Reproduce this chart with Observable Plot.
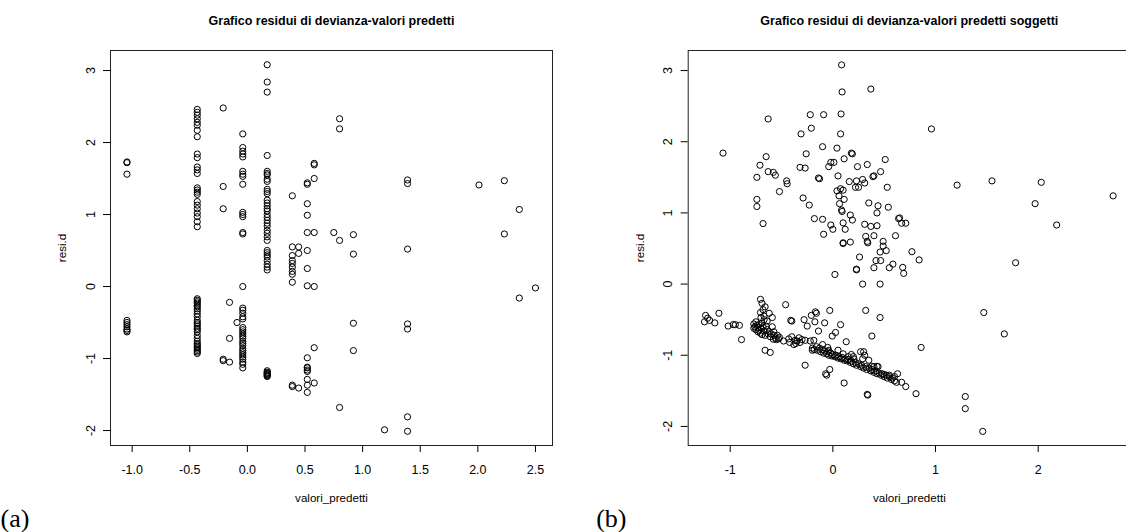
<!DOCTYPE html>
<html>
<head>
<meta charset="utf-8">
<script src="https://cdn.jsdelivr.net/npm/d3@7"></script>
<script src="https://cdn.jsdelivr.net/npm/@observablehq/plot@0.6"></script>
<style>
  html, body { margin: 0; padding: 0; background: white; }
  #wrap { width: 1126px; height: 532px; overflow: hidden; display: flex; position: relative; }
  #wrap svg { flex: none; display: block; }
</style>
</head>
<body>
<div id="wrap"></div>
<script>
// ---------- Panel (a): residui di devianza vs valori predetti ----------
const titleA = "Grafico residui di devianza-valori predetti";
const titleB = "Grafico residui di devianza-valori predetti soggetti";
const xLabel = "valori_predetti";
const yLabel = "resi.d";

const aXTicks = [-1.0, -0.5, 0.0, 0.5, 1.0, 1.5, 2.0, 2.5];
const aYTicks = [-2, -1, 0, 1, 2, 3];
const bXTicks = [-1, 0, 1, 2];
const bYTicks = [-2, -1, 0, 1, 2, 3];

// predicted value of each column of points in panel (a)
const aGroupX = [-1.045, -0.435, -0.21, -0.155, -0.09, -0.04, 0.172, 0.39, 0.445, 0.52, 0.58, 0.75, 0.80, 0.92, 1.19, 1.39, 2.01, 2.23, 2.36, 2.50];
// deviance residuals of each column
const aGroupY = [
  [1.73, 1.72, 1.56, -0.47, -0.50, -0.53, -0.56, -0.59, -0.61, -0.63],
  [2.46, 2.42, 2.38, 2.33, 2.28, 2.24, 2.17, 2.08, 1.84, 1.79, 1.66, 1.62, 1.57, 1.37, 1.34, 1.31, 1.28, 1.18, 1.13, 1.08, 1.02, 0.97, 0.90, 0.83,
   -0.17, -0.19, -0.21, -0.23, -0.26, -0.28, -0.31, -0.34, -0.38, -0.42, -0.47, -0.50, -0.52, -0.55, -0.58, -0.60, -0.63, -0.68, -0.72, -0.76, -0.79, -0.81, -0.83, -0.85, -0.87, -0.89, -0.91, -0.93],
  [2.48, 1.39, 1.08, -1.01, -1.03],
  [-0.22, -0.72, -1.05],
  [-0.50],
  [2.12, 1.93, 1.88, 1.84, 1.80, 1.60, 1.56, 1.53, 1.42, 1.03, 1.00, 0.97, 0.75, 0.73,
   0.00, -0.30, -0.33, -0.37, -0.42, -0.45, -0.57, -0.60, -0.63, -0.66, -0.69, -0.72, -0.76, -0.79, -0.82, -0.86, -0.89, -0.92, -0.95, -0.98, -1.01, -1.05, -1.08, -1.13],
  [3.08, 2.84, 2.70, 1.82, 1.60, 1.57, 1.55, 1.49, 1.46, 1.35, 1.32, 1.29, 1.20, 1.16, 1.12, 1.08, 1.05, 1.00, 0.96, 0.92, 0.88, 0.84, 0.78, 0.74, 0.69, 0.64, 0.50, 0.47, 0.44, 0.41, 0.36, 0.31, 0.27, 0.23,
   -1.17, -1.19, -1.20, -1.21, -1.22, -1.23, -1.24, -1.25],
  [1.26, 0.55, 0.43, 0.36, 0.32, 0.27, 0.21, 0.17, 0.06, -1.37, -1.39],
  [0.55, 0.46, -1.41],
  [1.44, 1.42, 1.15, 0.99, 0.75, 0.50, 0.25, 0.01, -0.99, -1.12, -1.13, -1.16, -1.18, -1.29, -1.37, -1.47],
  [1.71, 1.69, 1.50, 0.75, 0.00, -0.85, -1.34],
  [0.75],
  [2.33, 2.19, 0.64, -1.68],
  [0.72, 0.45, -0.51, -0.89],
  [-1.99],
  [1.48, 1.43, 0.52, -0.52, -0.59, -1.81, -2.01],
  [1.41],
  [1.47, 0.73],
  [1.07, -0.16],
  [-0.02]
];

// ---------- Panel (b): per soggetto ----------
const bUpper = [
  [-1.07,1.84],[-0.63,2.32],[-0.65,1.79],[-0.71,1.67],[-0.74,1.50],[-0.63,1.58],[-0.58,1.57],[-0.56,1.53],[-0.45,1.45],[-0.445,1.41],[-0.52,1.30],[-0.74,1.19],[-0.74,1.09],[-0.68,0.85],
  [-0.31,2.11],[-0.22,2.38],[-0.21,2.19],[-0.09,2.38],[-0.10,1.93],[-0.26,1.83],[-0.32,1.64],[-0.27,1.63],[-0.14,1.49],[-0.13,1.48],[-0.29,1.21],[-0.23,1.11],[-0.18,0.92],[-0.10,0.91],[-0.09,0.70],[-0.02,0.83],[0.00,0.77],
  [-0.04,1.65],[-0.02,1.71],[0.01,1.71],[0.04,1.91],[0.05,1.52],[0.085,3.08],[0.09,2.70],[0.08,2.39],[0.075,2.11],[0.11,1.76],[0.18,1.84],[0.19,1.83],[0.04,1.31],[0.075,1.34],[0.10,1.32],[0.06,1.24],[0.11,1.19],
  [0.065,1.13],[0.085,1.04],[0.09,1.02],[0.10,0.86],[0.12,0.77],[0.10,0.58],[0.17,0.59],[0.17,0.97],[0.19,0.90],[0.16,1.44],[0.24,1.65],[0.23,1.45],[0.22,1.36],[0.25,1.36],[0.29,1.47],[0.31,1.42],[0.335,1.68],
  [0.37,2.74],[0.39,1.51],[0.40,1.52],[0.465,1.58],[0.51,1.75],[0.53,1.36],[0.54,1.08],[0.35,1.14],[0.44,1.10],[0.43,1.00],[0.31,0.84],[0.37,0.81],[0.43,0.82],[0.32,0.67],[0.335,0.60],[0.40,0.68],[0.49,0.60],
  [0.49,0.535],[0.52,0.47],[0.46,0.45],[0.465,0.33],[0.42,0.33],[0.26,0.38],[0.40,0.23],[0.23,0.21],
  [0.96,2.18],[1.21,1.39],[1.55,1.45],[2.03,1.43],[1.97,1.13],[2.18,0.83],[2.73,1.24],[1.78,0.30],[0.64,0.92],[0.65,0.93],[0.67,0.855],[0.71,0.855],[0.61,0.68],[0.77,0.455],[0.84,0.34],[0.585,0.28],[0.55,0.23],
  [0.68,0.235],[0.69,0.15],[0.02,0.135],[0.29,0.0],[0.46,0.0],[0.10,0.57],[0.34,0.58]
];
const bLower = [
  [-1.25,-0.53],[-1.24,-0.44],[-1.22,-0.48],[-1.20,-0.51],[-1.15,-0.545],[-1.11,-0.41],[-1.02,-0.59],[-0.97,-0.57],[-0.95,-0.57],[-0.91,-0.58],[-0.89,-0.78],
  [-0.705,-0.215],[-0.69,-0.27],[-0.66,-0.32],[-0.705,-0.40],[-0.62,-0.41],[-0.59,-0.47],[-0.67,-0.45],[-0.75,-0.53],[-0.74,-0.58],[-0.77,-0.62],[-0.72,-0.65],[-0.69,-0.55],[-0.65,-0.59],[-0.62,-0.67],[-0.59,-0.60],
  [-0.575,-0.67],[-0.66,-0.72],[-0.705,-0.69],[-0.54,-0.72],[-0.58,-0.775],[-0.52,-0.75],[-0.48,-0.80],[-0.66,-0.93],[-0.61,-0.96],[-0.77,-0.56],[-0.76,-0.60],[-0.75,-0.64],[-0.73,-0.61],[-0.72,-0.57],[-0.70,-0.62],
  [-0.68,-0.60],[-0.67,-0.66],[-0.64,-0.64],[-0.63,-0.70],[-0.60,-0.70],[-0.57,-0.72],[-0.56,-0.76],[-0.55,-0.78],[-0.53,-0.77],[-0.68,-0.36],[-0.67,-0.50],[-0.64,-0.52],[-0.70,-0.47],[-0.73,-0.67],[-0.69,-0.71],[-0.61,-0.74],
  [-0.46,-0.29],[-0.41,-0.51],[-0.40,-0.52],[-0.40,-0.74],[-0.37,-0.79],[-0.36,-0.835],[-0.33,-0.755],[-0.30,-0.78],[-0.27,-0.79],[-0.28,-0.50],[-0.25,-0.59],[-0.185,-0.79],[-0.27,-1.14],[-0.21,-0.44],[-0.17,-0.39],
  [-0.16,-0.41],[-0.175,-0.53],[-0.14,-0.66],[-0.08,-0.545],[-0.03,-0.37],[-0.006,-0.73],[0.026,-0.68],[0.075,-0.57],[0.13,-0.81],[-0.20,-0.93],[-0.04,-0.93],[-0.07,-1.26],[-0.06,-1.28],[-0.03,-1.20],[0.11,-1.39],
  [0.18,-0.99],[0.205,-1.05],[0.23,0.20],[0.32,-0.37],[0.46,-0.47],[0.38,-0.73],[0.30,-0.95],[0.335,-1.55],[0.34,-1.56],[0.86,-0.89],[0.81,-1.54],[1.29,-1.58],[1.29,-1.75],[1.46,-2.07],[1.47,-0.40],[1.67,-0.70],
  [0.71,-1.44],[0.67,-1.38],[0.63,-1.26],[0.29,-1.05],[0.38,-1.155],[0.43,-1.155],[-0.43,-0.77],[-0.42,-0.82],[-0.38,-0.85],[-0.35,-0.80],[-0.32,-0.82],[-0.22,-0.80],
  [-0.20,-0.90],[-0.18,-0.92],[-0.16,-0.88],[-0.15,-0.93],[-0.13,-0.90],[-0.12,-0.95],[-0.10,-0.92],[-0.09,-0.97],[-0.08,-0.94],[-0.06,-0.98],[-0.05,-0.95],[-0.04,-1.00],[-0.02,-0.97],[-0.01,-1.01],[0.00,-0.99],
  [0.02,-1.02],[0.03,-1.00],[0.05,-1.04],[0.06,-1.02],[0.08,-1.05],[0.09,-1.03],[0.11,-1.07],[0.12,-1.05],[0.14,-1.08],[0.15,-1.06],[0.17,-1.10],[0.18,-1.08],[0.20,-1.12],[0.22,-1.10],[0.23,-1.14],[0.25,-1.12],
  [0.27,-1.16],[0.28,-1.14],[0.30,-1.18],[0.32,-1.16],[0.33,-1.20],[0.35,-1.18],[0.37,-1.22],[0.38,-1.20],[0.40,-1.24],[0.42,-1.22],[0.43,-1.26],[0.45,-1.25],[0.47,-1.28],[0.48,-1.26],[0.50,-1.30],[0.52,-1.28],
  [0.53,-1.32],[0.55,-1.30],[0.57,-1.34],[0.58,-1.32],[0.60,-1.36],[0.62,-1.38],[0.27,-0.95],[0.31,-1.00],[0.35,-1.07],[0.40,-1.16],[0.44,-1.16],[0.50,-1.27],[0.55,-1.28],[0.60,-1.30],[-0.10,-0.85],[-0.05,-0.89],
  [0.05,-0.93],[0.10,-0.98],[0.15,-1.02],[0.20,-1.02]
];

// ---------- build tables ----------
const dataA = aGroupX.flatMap((x, i) => aGroupY[i].map(y => ({x, y})));
const dataB = bUpper.concat(bLower).map(([x, y]) => ({x, y}));

const FONT = "'Liberation Sans', Arial, Helvetica, sans-serif";

function panel({data, width, marginLeft, marginRight, xDomain, yDomain, xTicks, yTicks, xFmt, title, tag, tagDx}) {
  return Plot.plot({
    width, height: 532,
    marginLeft, marginRight, marginTop: 50, marginBottom: 87,
    x: {domain: xDomain},
    y: {domain: yDomain},
    style: {fontFamily: FONT, background: "white", color: "black", overflow: "visible"},
    marks: [
      Plot.axisX({ticks: xTicks, tickSize: 7, tickPadding: 13, tickFormat: xFmt, fontSize: 12.5, label: null, stroke: "black", fill: "black"}),
      Plot.axisY({ticks: yTicks, tickSize: 7, tickFormat: () => "", label: null, stroke: "black"}),
      Plot.text(yTicks, {y: d => d, text: d => String(d).replace("\u2212", "-"), frameAnchor: "left", dx: -20,
        rotate: -90, textAnchor: "middle", lineAnchor: "middle", fontSize: 12.5, fill: "black"}),
      Plot.frame({stroke: "#222", strokeWidth: 1}),
      Plot.dot(data, {x: "x", y: "y", r: 3.1, stroke: "black", strokeWidth: 1, fill: "none"}),
      Plot.text([title], {text: d => d, frameAnchor: "top", dy: -30, lineAnchor: "middle", fontWeight: "bold", fontSize: 12.5, fill: "black"}),
      Plot.text([xLabel], {text: d => d, frameAnchor: "bottom", dy: 53, lineAnchor: "middle", fontSize: 11.6, fill: "black"}),
      Plot.text([yLabel], {text: d => d, frameAnchor: "left", dx: -48, rotate: -90, textAnchor: "middle", lineAnchor: "middle", fontSize: 11.6, fill: "black"}),
      Plot.text([tag], {text: d => d, frameAnchor: "bottom-left", dx: tagDx, dy: 73, textAnchor: "start", lineAnchor: "middle",
        fontSize: 26, fontFamily: "'Liberation Serif', 'DejaVu Serif', serif", fill: "black"})
    ]
  });
}

const plotA = panel({
  data: dataA, width: 563, marginLeft: 110, marginRight: 11,
  xDomain: [-1.188, 2.648], yDomain: [-2.208, 3.278],
  xTicks: aXTicks, yTicks: aYTicks, xFmt: d => d.toFixed(1).replace("\u2212", "-"),
  title: titleA, tag: "(a)", tagDx: -110
});
const plotB = panel({
  data: dataB, width: 567, marginLeft: 124.7, marginRight: 0,
  xDomain: [-1.409, 2.899], yDomain: [-2.268, 3.282],
  xTicks: bXTicks, yTicks: bYTicks, xFmt: d => String(d),
  title: titleB, tag: "(b)", tagDx: -92
});

const wrap = document.getElementById("wrap");
wrap.appendChild(plotA);
wrap.appendChild(plotB);
</script>
</body>
</html>
